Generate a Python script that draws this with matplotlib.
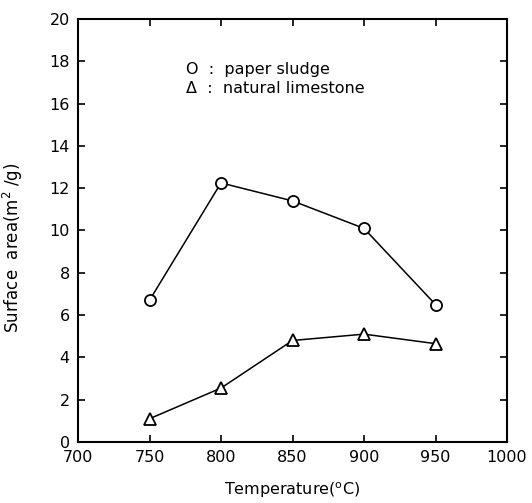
import numpy as np
import matplotlib.pyplot as plt

temps = [750, 800, 850, 900, 950]
paper_sludge = [6.7, 12.25, 11.4, 10.1, 6.5]
limestone = [1.1, 2.55, 4.8, 5.1, 4.65]

plt.rcParams['font.family'] = 'DejaVu Sans'

fig = plt.figure(figsize=(5.32, 5.03), dpi=100)
ax = fig.add_axes([78 / 532, 1 - 442 / 503, (507 - 78) / 532, (442 - 19) / 503])

ax.plot(temps, paper_sludge, color='black', lw=1.1, marker='o', ms=8,
        mfc='white', mec='black', mew=1.3)
ax.plot(temps, limestone, color='black', lw=1.1, marker='^', ms=8,
        mfc='white', mec='black', mew=1.3)

ax.set_xlim(700, 1000)
ax.set_ylim(0, 20)
ax.set_xticks(np.arange(700, 1001, 50))
ax.set_yticks(np.arange(0, 21, 2))
ax.tick_params(direction='in', top=True, right=True, length=5, width=1.2,
               labelsize=11.5, pad=6)
for s in ax.spines.values():
    s.set_linewidth(1.5)

ax.set_xlabel('Temperature($^{\\mathrm{o}}$C)', fontsize=11.5)
ax.xaxis.set_label_coords(0.5, -0.09)
ax.set_ylabel('Surface  area(m$^{\\mathrm{2}}$ /g)', fontsize=12)
ax.yaxis.set_label_coords(-0.123, 0.46)

# legend written as plain text lines
ax.text(0.252, 0.88, 'O  :  paper sludge', transform=ax.transAxes,
        fontsize=11.5, va='center')
ax.text(0.252, 0.835, '\u0394  :  natural limestone', transform=ax.transAxes,
        fontsize=11.5, va='center')

fig.savefig('out.png', dpi=100)
